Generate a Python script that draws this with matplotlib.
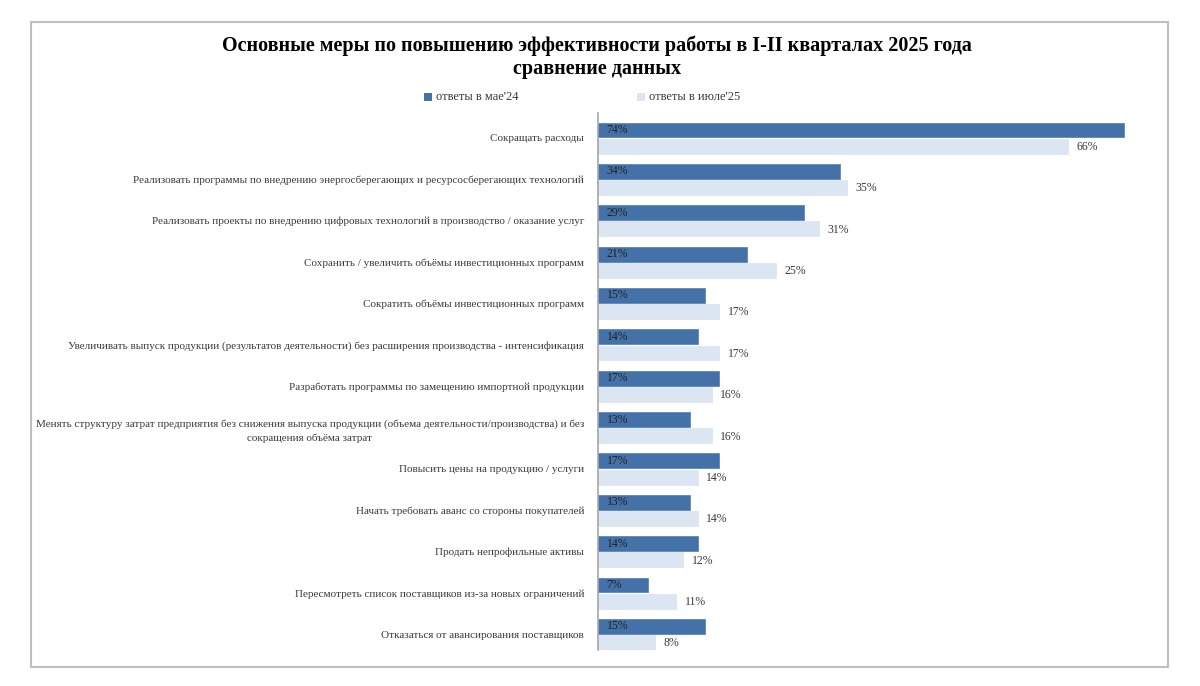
import matplotlib.pyplot as plt
from matplotlib.patches import Rectangle

plt.rcParams['font.family'] = ['Liberation Serif', 'DejaVu Serif']

# -------------------------------------------------------------------
# Data
# -------------------------------------------------------------------
categories = [
    "Сокращать расходы",
    "Реализовать программы по внедрению энергосберегающих и ресурсосберегающих технологий",
    "Реализовать проекты по внедрению цифровых технологий в производство / оказание услуг",
    "Сохранить / увеличить объёмы инвестиционных программ",
    "Сократить объёмы инвестиционных программ",
    "Увеличивать выпуск продукции (результатов деятельности) без расширения производства - интенсификация",
    "Разработать программы по замещению импортной продукции",
    "Менять структуру затрат предприятия без снижения выпуска продукции (объема деятельности/производства) и без\nсокращения объёма затрат",
    "Повысить цены на продукцию / услуги",
    "Начать требовать аванс со стороны покупателей",
    "Продать непрофильные активы",
    "Пересмотреть список поставщиков из-за новых ограничений",
    "Отказаться от авансирования поставщиков",
]
may24 = [74, 34, 29, 21, 15, 14, 17, 13, 17, 13, 14, 7, 15]
jul25 = [66, 35, 31, 25, 17, 17, 16, 16, 14, 14, 12, 11, 8]
series_names = ["ответы в мае'24", "ответы в июле'25"]

DARK = "#4472A8"
LIGHT = "#DCE6F2"
TXT = "#3A3A3A"

W, H = 1200, 686
fig = plt.figure(figsize=(W / 100, H / 100), dpi=100)

# outer frame
fig.patches.append(Rectangle((31 / W, 1 - 667 / H), (1168 - 31) / W, (667 - 22) / H,
                             transform=fig.transFigure, fill=False,
                             edgecolor="#BFBFBF", linewidth=1.5))

ax = fig.add_axes([598 / W, 1 - 650 / H, (1165 - 598) / W, (650 - 113) / H])

ys = list(range(len(categories)))
bh = 0.36
ax.barh([y - 0.19 for y in ys], may24, height=bh, color=DARK,
        edgecolor="#5B86BA", linewidth=0.6, label=series_names[0])
ax.barh([y + 0.2 for y in ys], jul25, height=bh, color=LIGHT,
        edgecolor=LIGHT, linewidth=0.6, label=series_names[1])

for y, v in zip(ys, may24):
    ax.text(1.2, y - 0.19, f"{v}%", ha="left", va="center", fontsize=8.5, color="#222222")
for y, v in zip(ys, jul25):
    ax.text(v + 1.2, y + 0.22, f"{v}%", ha="left", va="center", fontsize=8.5, color=TXT)

ax.set_xlim(0, 79.7)
ax.set_ylim(12.38, -0.6)
ax.set_xticks([])
ax.set_yticks(ys)
ax.set_yticklabels(categories, fontsize=8, color=TXT, multialignment="center")
for t in ax.get_yticklabels():
    t.set_linespacing(1.7)
ax.tick_params(axis="y", length=0, pad=10)
for s in ["top", "right", "bottom"]:
    ax.spines[s].set_visible(False)
ax.spines["left"].set_color("#A6A6A6")
ax.spines["left"].set_linewidth(1.2)

# title
fig.text(597 / W, 1 - 46 / H, "Основные меры по повышению эффективности работы в I-II кварталах 2025 года",
         ha="center", va="center", fontsize=14.5, fontweight="bold", color="black")
fig.text(597 / W, 1 - 69 / H, "сравнение данных",
         ha="center", va="center", fontsize=14.5, fontweight="bold", color="black")

# legend
fig.patches.append(Rectangle((424 / W, 1 - 101 / H), 8 / W, 8 / H, transform=fig.transFigure,
                             facecolor=DARK, edgecolor="none"))
fig.text(436 / W, 1 - 97 / H, series_names[0], ha="left", va="center", fontsize=9, color=TXT)
fig.patches.append(Rectangle((637 / W, 1 - 101 / H), 8 / W, 8 / H, transform=fig.transFigure,
                             facecolor=LIGHT, edgecolor="none"))
fig.text(649 / W, 1 - 97 / H, series_names[1], ha="left", va="center", fontsize=9, color=TXT)

fig.savefig("out.png", dpi=100)
